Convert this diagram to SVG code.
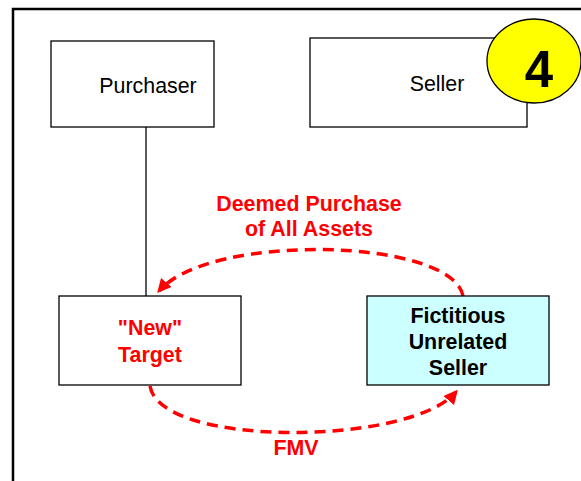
<svg xmlns="http://www.w3.org/2000/svg" width="581" height="481" viewBox="0 0 581 481">
<style>
.box{fill:#fff;stroke:#000;stroke-width:1.3}
.t{font-family:"Liberation Sans",Arial,sans-serif;font-size:21.4px;text-anchor:middle}
.b{font-weight:bold}
.red{fill:#ff0000}
.arc{fill:none;stroke:#ff0000;stroke-width:3.5;stroke-dasharray:11,7}
</style>
<defs>
<marker id="ah" viewBox="0 0 10 10" refX="8" refY="5" markerWidth="4" markerHeight="4" orient="auto" markerUnits="strokeWidth">
<path d="M0,0 L10,5 L0,10 Z" fill="#ff0000"/>
</marker>
</defs>
<rect width="581" height="481" fill="#fff"/>
<path d="M13,481 V9 H581" fill="none" stroke="#000" stroke-width="2.5"/>
<g id="connectors">
<line x1="146" y1="127" x2="146" y2="296" stroke="#000" stroke-width="1.3"/>
<path class="arc" d="M463,296 C452,238 210,232 159,291" marker-end="url(#ah)"/>
<path class="arc" d="M150,386 C160,448 410,446 456,392" marker-end="url(#ah)"/>
</g>
<g id="purchaser">
<rect class="box" x="51" y="41" width="163" height="86"/>
<text class="t" x="148" y="93">Purchaser</text>
</g>
<g id="seller">
<rect class="box" x="310" y="38" width="217" height="89"/>
<text class="t" x="437" y="91">Seller</text>
</g>
<g id="badge">
<ellipse cx="534" cy="61" rx="47" ry="42" fill="#ffff00" stroke="#000" stroke-width="1.3"/>
<text class="t b" x="539" y="87" style="font-size:51px">4</text>
</g>
<g id="label-deemed">
<text class="t b red" x="309" y="211">Deemed Purchase</text>
<text class="t b red" x="309" y="236">of All Assets</text>
</g>
<g id="new-target">
<rect class="box" x="59" y="296" width="182" height="89"/>
<text class="t b red" x="150" y="335">"New"</text>
<text class="t b red" x="150" y="362">Target</text>
</g>
<g id="fictitious">
<rect x="367" y="296" width="182" height="89" fill="#ccffff" stroke="#000" stroke-width="1.3"/>
<text class="t b" x="458" y="323">Fictitious</text>
<text class="t b" x="458" y="349">Unrelated</text>
<text class="t b" x="458" y="375">Seller</text>
</g>
<g id="label-fmv">
<text class="t b red" x="296" y="455">FMV</text>
</g>
</svg>
